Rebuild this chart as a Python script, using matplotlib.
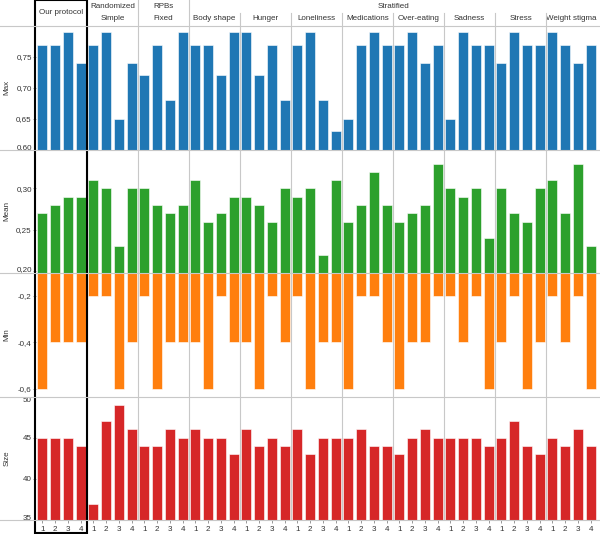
import numpy as np
import matplotlib
matplotlib.use("Agg")
import matplotlib.pyplot as plt
import matplotlib.transforms as mtransforms
from matplotlib.patches import Rectangle
from matplotlib.lines import Line2D

plt.rcParams['font.family'] = ['Liberation Sans', 'DejaVu Sans']

groups = ['Our protocol', 'Simple', 'Fixed', 'Body shape', 'Hunger', 'Loneliness',
          'Medications', 'Over-eating', 'Sadness', 'Stress', 'Weight stigma']
runs = ['1', '2', '3', '4']

max_vals = [0.77, 0.77, 0.79, 0.74,
            0.77, 0.79, 0.65, 0.74,
            0.72, 0.77, 0.68, 0.79,
            0.77, 0.77, 0.72, 0.79,
            0.79, 0.72, 0.77, 0.68,
            0.77, 0.79, 0.68, 0.63,
            0.65, 0.77, 0.79, 0.77,
            0.77, 0.79, 0.74, 0.77,
            0.65, 0.79, 0.77, 0.77,
            0.74, 0.79, 0.77, 0.77,
            0.79, 0.77, 0.74, 0.77]
mean_vals = [0.27, 0.28, 0.29, 0.29,
             0.31, 0.30, 0.23, 0.30,
             0.30, 0.28, 0.27, 0.28,
             0.31, 0.26, 0.27, 0.29,
             0.29, 0.28, 0.26, 0.30,
             0.29, 0.30, 0.22, 0.31,
             0.26, 0.28, 0.32, 0.28,
             0.26, 0.27, 0.28, 0.33,
             0.30, 0.29, 0.30, 0.24,
             0.30, 0.27, 0.26, 0.30,
             0.31, 0.27, 0.33, 0.23]
min_vals = [-0.6, -0.4, -0.4, -0.4,
            -0.2, -0.2, -0.6, -0.4,
            -0.2, -0.6, -0.4, -0.4,
            -0.4, -0.6, -0.2, -0.4,
            -0.4, -0.6, -0.2, -0.4,
            -0.2, -0.6, -0.4, -0.4,
            -0.6, -0.2, -0.2, -0.4,
            -0.6, -0.4, -0.4, -0.2,
            -0.2, -0.4, -0.2, -0.6,
            -0.4, -0.2, -0.6, -0.4,
            -0.2, -0.4, -0.2, -0.6]
size_vals = [45, 45, 45, 44,
             37, 47, 49, 46,
             44, 44, 46, 45,
             46, 45, 45, 43,
             46, 44, 45, 44,
             46, 43, 45, 45,
             45, 46, 44, 44,
             43, 45, 46, 45,
             45, 45, 45, 44,
             45, 47, 44, 43,
             45, 44, 46, 44]

panels = [
    ('Max', max_vals, '#1f77b4', (0.60, 0.80), [0.60, 0.65, 0.70, 0.75], ['0,60', '0,65', '0,70', '0,75']),
    ('Mean', mean_vals, '#2ca02c', (0.198, 0.347), [0.20, 0.25, 0.30], ['0,20', '0,25', '0,30']),
    ('Min', min_vals, '#ff7f0e', (-0.632, -0.103), [-0.6, -0.4, -0.2], ['-0,6', '-0,4', '-0,2']),
    ('Size', size_vals, '#d62728', (35, 50), [35, 40, 45, 50], ['35', '40', '45', '50']),
]

W, H = 600, 534
fig = plt.figure(figsize=(6, 5.34), dpi=100)

left, right = 36 / W, 597 / W
top_px, panel_h = 26, 123.5
grid_col = '#c8c8c8'
txt_col = '#333333'
fs = 5.8
n = len(groups) * len(runs)
x = np.arange(n) + 0.5

axes = []
for i, (name, vals, col, lim, ticks, labels) in enumerate(panels):
    y0 = 1 - (top_px + (i + 1) * panel_h) / H
    ax = fig.add_axes([left, y0, right - left, panel_h / H])
    ax.bar(x, vals, width=0.78, color=col, edgecolor='white', linewidth=0.4)
    ax.set_xlim(0, n)
    ax.set_ylim(*lim)
    ax.set_yticks(ticks)
    ax.set_yticklabels(labels)
    ax.tick_params(axis='y', length=2, width=0.6, color='#888888', labelsize=fs, labelcolor=txt_col, pad=1)
    span = lim[1] - lim[0]
    for t, lab in zip(ticks, ax.get_yticklabels()):
        if abs(t - lim[0]) < 0.03 * span:
            lab.set_va('baseline')
        elif abs(lim[1] - t) < 0.03 * span:
            lab.set_va('top')
    ax.set_ylabel(name, fontsize=fs, color=txt_col)
    ax.yaxis.set_label_coords(-0.045, 0.5)
    for s in ax.spines.values():
        s.set_visible(False)
    for b in range(len(runs), n, len(runs)):
        ax.axvline(b, color=grid_col, linewidth=0.8, zorder=0)
    if i == len(panels) - 1:
        ax.set_xticks(x)
        ax.set_xticklabels(runs * len(groups))
        ax.tick_params(axis='x', length=2, width=0.6, color='#888888', labelsize=fs, labelcolor=txt_col, pad=2)
    else:
        ax.set_xticks([])
    axes.append(ax)

# horizontal separators between panels
for k in range(len(panels) + 1):
    yy = 1 - (top_px + k * panel_h) / H
    fig.add_artist(Line2D([0, 1], [yy, yy], transform=fig.transFigure, color=grid_col, linewidth=0.8))

# header area
ax0 = axes[0]
tr = mtransforms.blended_transform_factory(ax0.transData, fig.transFigure)
row1 = 1 - 6 / H
row2 = 1 - 19 / H
hdr = dict(fontsize=fs, color=txt_col, ha='center', va='center', transform=tr)

ax0.text(2, 1 - 13 / H, groups[0], **hdr)
ax0.text(6, row1, 'Randomized', **hdr)
ax0.text(10, row1, 'RPBs', **hdr)
ax0.text((12 + n) / 2, row1, 'Stratified', **hdr)
for g in range(1, len(groups)):
    ax0.text(g * 4 + 2, row2, groups[g], **hdr)

# header separators
for b in range(8, n, 4):
    ytop = 1.0 if b <= 12 else 1 - 13 / H
    fig.add_artist(Line2D([b, b], [1 - top_px / H, ytop], transform=tr, color=grid_col, linewidth=0.8))

# box around our protocol
fig.add_artist(Rectangle((-0.05, 1 / H), 4.05, 1 - 1 / H, transform=tr, fill=False,
                         edgecolor='black', linewidth=1.5, clip_on=False))

fig.savefig('out.png', dpi=100)
